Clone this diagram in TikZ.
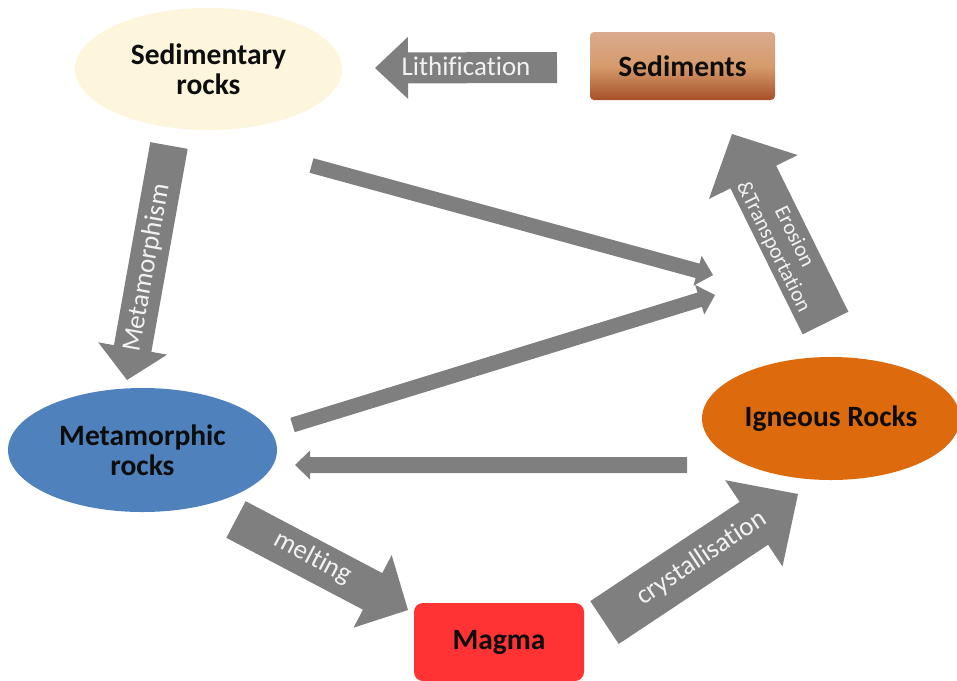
\documentclass[tikz,border=0pt]{standalone}
\usepackage{fontspec}
\setmainfont{Carlito}[Ligatures={NoCommon}]
\usetikzlibrary{calc,shapes.geometric}
\definecolor{agray}{RGB}{127,127,127}
\definecolor{lbltext}{RGB}{242,242,242}
\definecolor{sedfill}{RGB}{253,245,220}
\definecolor{metfill}{RGB}{79,129,189}
\definecolor{ignfill}{RGB}{221,106,12}
\definecolor{magfill}{RGB}{255,51,51}
\definecolor{sedtop}{RGB}{218,170,143}
\definecolor{sedmid}{RGB}{214,155,108}
\definecolor{sedbot}{RGB}{166,80,40}
\newcommand\blockarrow[5]{%
  \coordinate (hb) at ($(#2)!#5pt!(#1)$);
  \fill[agray] ($(#1)!#3pt!90:(#2)$) -- ($(hb)!#3pt!-90:(#1)$) -- ($(hb)!#4pt!-90:(#1)$) -- (#2)
    -- ($(hb)!#4pt!90:(#1)$) -- ($(hb)!#3pt!90:(#1)$) -- ($(#1)!#3pt!-90:(#2)$) -- cycle;
}
\tikzset{
  rock/.style={ellipse, inner sep=0pt, align=center, text=black!95,
    font=\fontsize{29.5}{30}\selectfont\bfseries},
  boxnode/.style={rectangle, inner sep=0pt, align=center, text=black!95,
    font=\fontsize{29.5}{30}\selectfont\bfseries},
  lbl/.style={inner sep=0pt, align=center, text=lbltext,
    font=\fontsize{27}{28}\selectfont},
}
\begin{document}
\begin{tikzpicture}[x=1pt,y=-1pt]
\useasboundingbox (0,0) rectangle (957,680);
% nodes
\node[rock, fill=sedfill, minimum width=267pt, minimum height=122pt] (sedrock) at (208.5,69) {Sedimentary\\rocks};
\node[boxnode, rounded corners=4pt, minimum width=185pt, minimum height=68pt,
  top color=sedtop, bottom color=sedbot, middle color=sedmid] (sediments) at (682.5,66) {Sediments};
\node[rock, fill=metfill, minimum width=269pt, minimum height=124pt] (metrock) at (142.5,450) {Metamorphic\\rocks};
\node[rock, fill=ignfill, minimum width=258pt, minimum height=123pt] (ignrock) at (831,418.5) {Igneous Rocks};
\node[boxnode, rounded corners=9pt, fill=magfill, minimum width=170pt, minimum height=78pt] (magma) at (499,642) {Magma};
% arrow end points
\coordinate (litS) at (557,67.5);   \coordinate (litT) at (375,68);
\coordinate (metS) at (169,145.5);  \coordinate (metT) at (127,380);
\coordinate (eroS) at (825.5,323);  \coordinate (eroT) at (732,134);
\coordinate (melS) at (236,519.5);  \coordinate (melT) at (408,610);
\coordinate (cryS) at (604.5,622.5); \coordinate (cryT) at (798,494);
\coordinate (aS) at (311.5,165.5);  \coordinate (aT) at (713,275);
\coordinate (bS) at (292.5,425);    \coordinate (bT) at (715,295);
\coordinate (cS) at (687,465);      \coordinate (cT) at (295,465);
% block arrows
\blockarrow{litS}{litT}{15.5}{31}{33}
\blockarrow{metS}{metT}{19}{35}{32}
\blockarrow{eroS}{eroT}{25.5}{49.5}{48}
\blockarrow{melS}{melT}{20.7}{41}{40}
\blockarrow{cryS}{cryT}{25.7}{51.8}{53}
\blockarrow{aS}{aT}{7.5}{15.5}{16}
\blockarrow{bS}{bT}{7.5}{15.5}{16}
\blockarrow{cS}{cT}{8}{14.5}{15}
% labels
\node[lbl] (litlbl) at (466,66) {Lithification};
\node[lbl, rotate=79.8] (metlbl) at (147,268) {Metamorphism};
\node[lbl, rotate=-63.7, font=\fontsize{21.5}{23}\selectfont] (erolbl) at (783.5,242) {Erosion\\\&Transportation};
\node[lbl, rotate=-27.8] (mellbl) at (313,558) {melting};
\node[lbl, rotate=33.6] (crylbl) at (701.7,558) {crystallisation};
\end{tikzpicture}
\end{document}
